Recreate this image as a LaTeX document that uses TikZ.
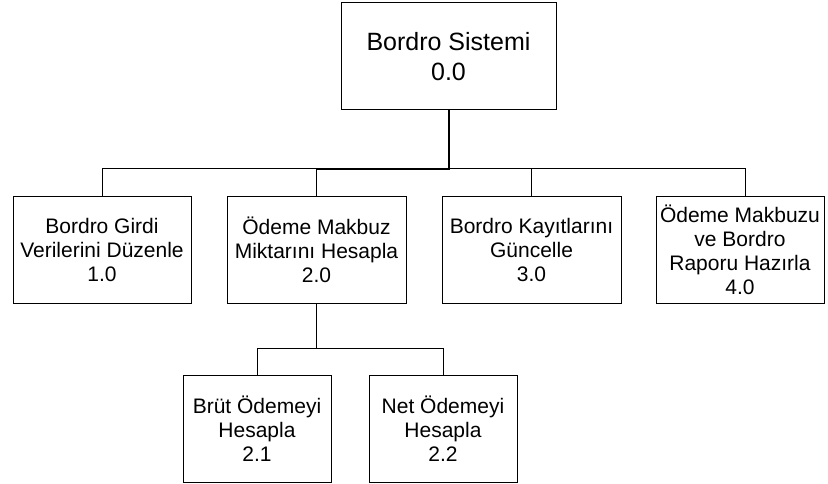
\documentclass[tikz,border=0pt]{standalone}
\usepackage{fontspec}
\setmainfont{Liberation Sans}
\begin{document}
\begin{tikzpicture}[x=1pt,y=-1pt,
  procbox/.style={draw=black, line width=1pt, fill=white, inner sep=0pt, align=center,
    font=\fontsize{21}{24}\selectfont},
  link/.style={draw=black, line width=1pt},
  trunk/.style={draw=black, line width=2pt, line join=miter}]
\useasboundingbox (0,0) rectangle (828,484);

% top level process
\node[procbox, minimum width=215pt, minimum height=107pt,
  font=\fontsize{25}{30}\selectfont] (root) at (448.5,56.5) {Bordro Sistemi\\0.0};

% first level processes
\node[procbox, minimum width=178pt, minimum height=106pt] (b1) at (102,250)
  {Bordro Girdi\\Verilerini Düzenle\\1.0};
\node[procbox, minimum width=179pt, minimum height=106pt] (b2) at (316.5,250)
  {Ödeme Makbuz\\Miktarını Hesapla\\2.0};
\node[procbox, minimum width=179pt, minimum height=106pt] (b3) at (531.5,250)
  {Bordro Kayıtlarını\\Güncelle\\3.0};
\node[procbox, minimum width=168pt, minimum height=106pt] (b4) at (740,250)
  {Ödeme Makbuzu\\ve Bordro\\Raporu Hazırla\\4.0};

% second level processes
\node[procbox, minimum width=148pt, minimum height=107pt] (b21) at (257,428.5)
  {Brüt Ödemeyi\\Hesapla\\2.1};
\node[procbox, minimum width=148pt, minimum height=107pt] (b22) at (443,428.5)
  {Net Ödemeyi\\Hesapla\\2.2};

% connectors
\coordinate (bus1) at (448.5,169);
\coordinate (bus2) at (316.5,348);
\draw[link] (b1.north) |- (bus1);
\draw[link] (b3.north) |- (bus1);
\draw[link] ([xshift=5pt]b4.north) |- (bus1);
\draw[link] (b2.north) -- (b2.north |- bus1);
\draw[trunk] (root.south) -- (bus1) -- (b2.north |- bus1);

\draw[link, line width=1.5pt] (b2.south) -- (bus2);
\draw[link] (b21.north) |- (bus2);
\draw[link] (b22.north) |- (bus2);
\end{tikzpicture}
\end{document}
